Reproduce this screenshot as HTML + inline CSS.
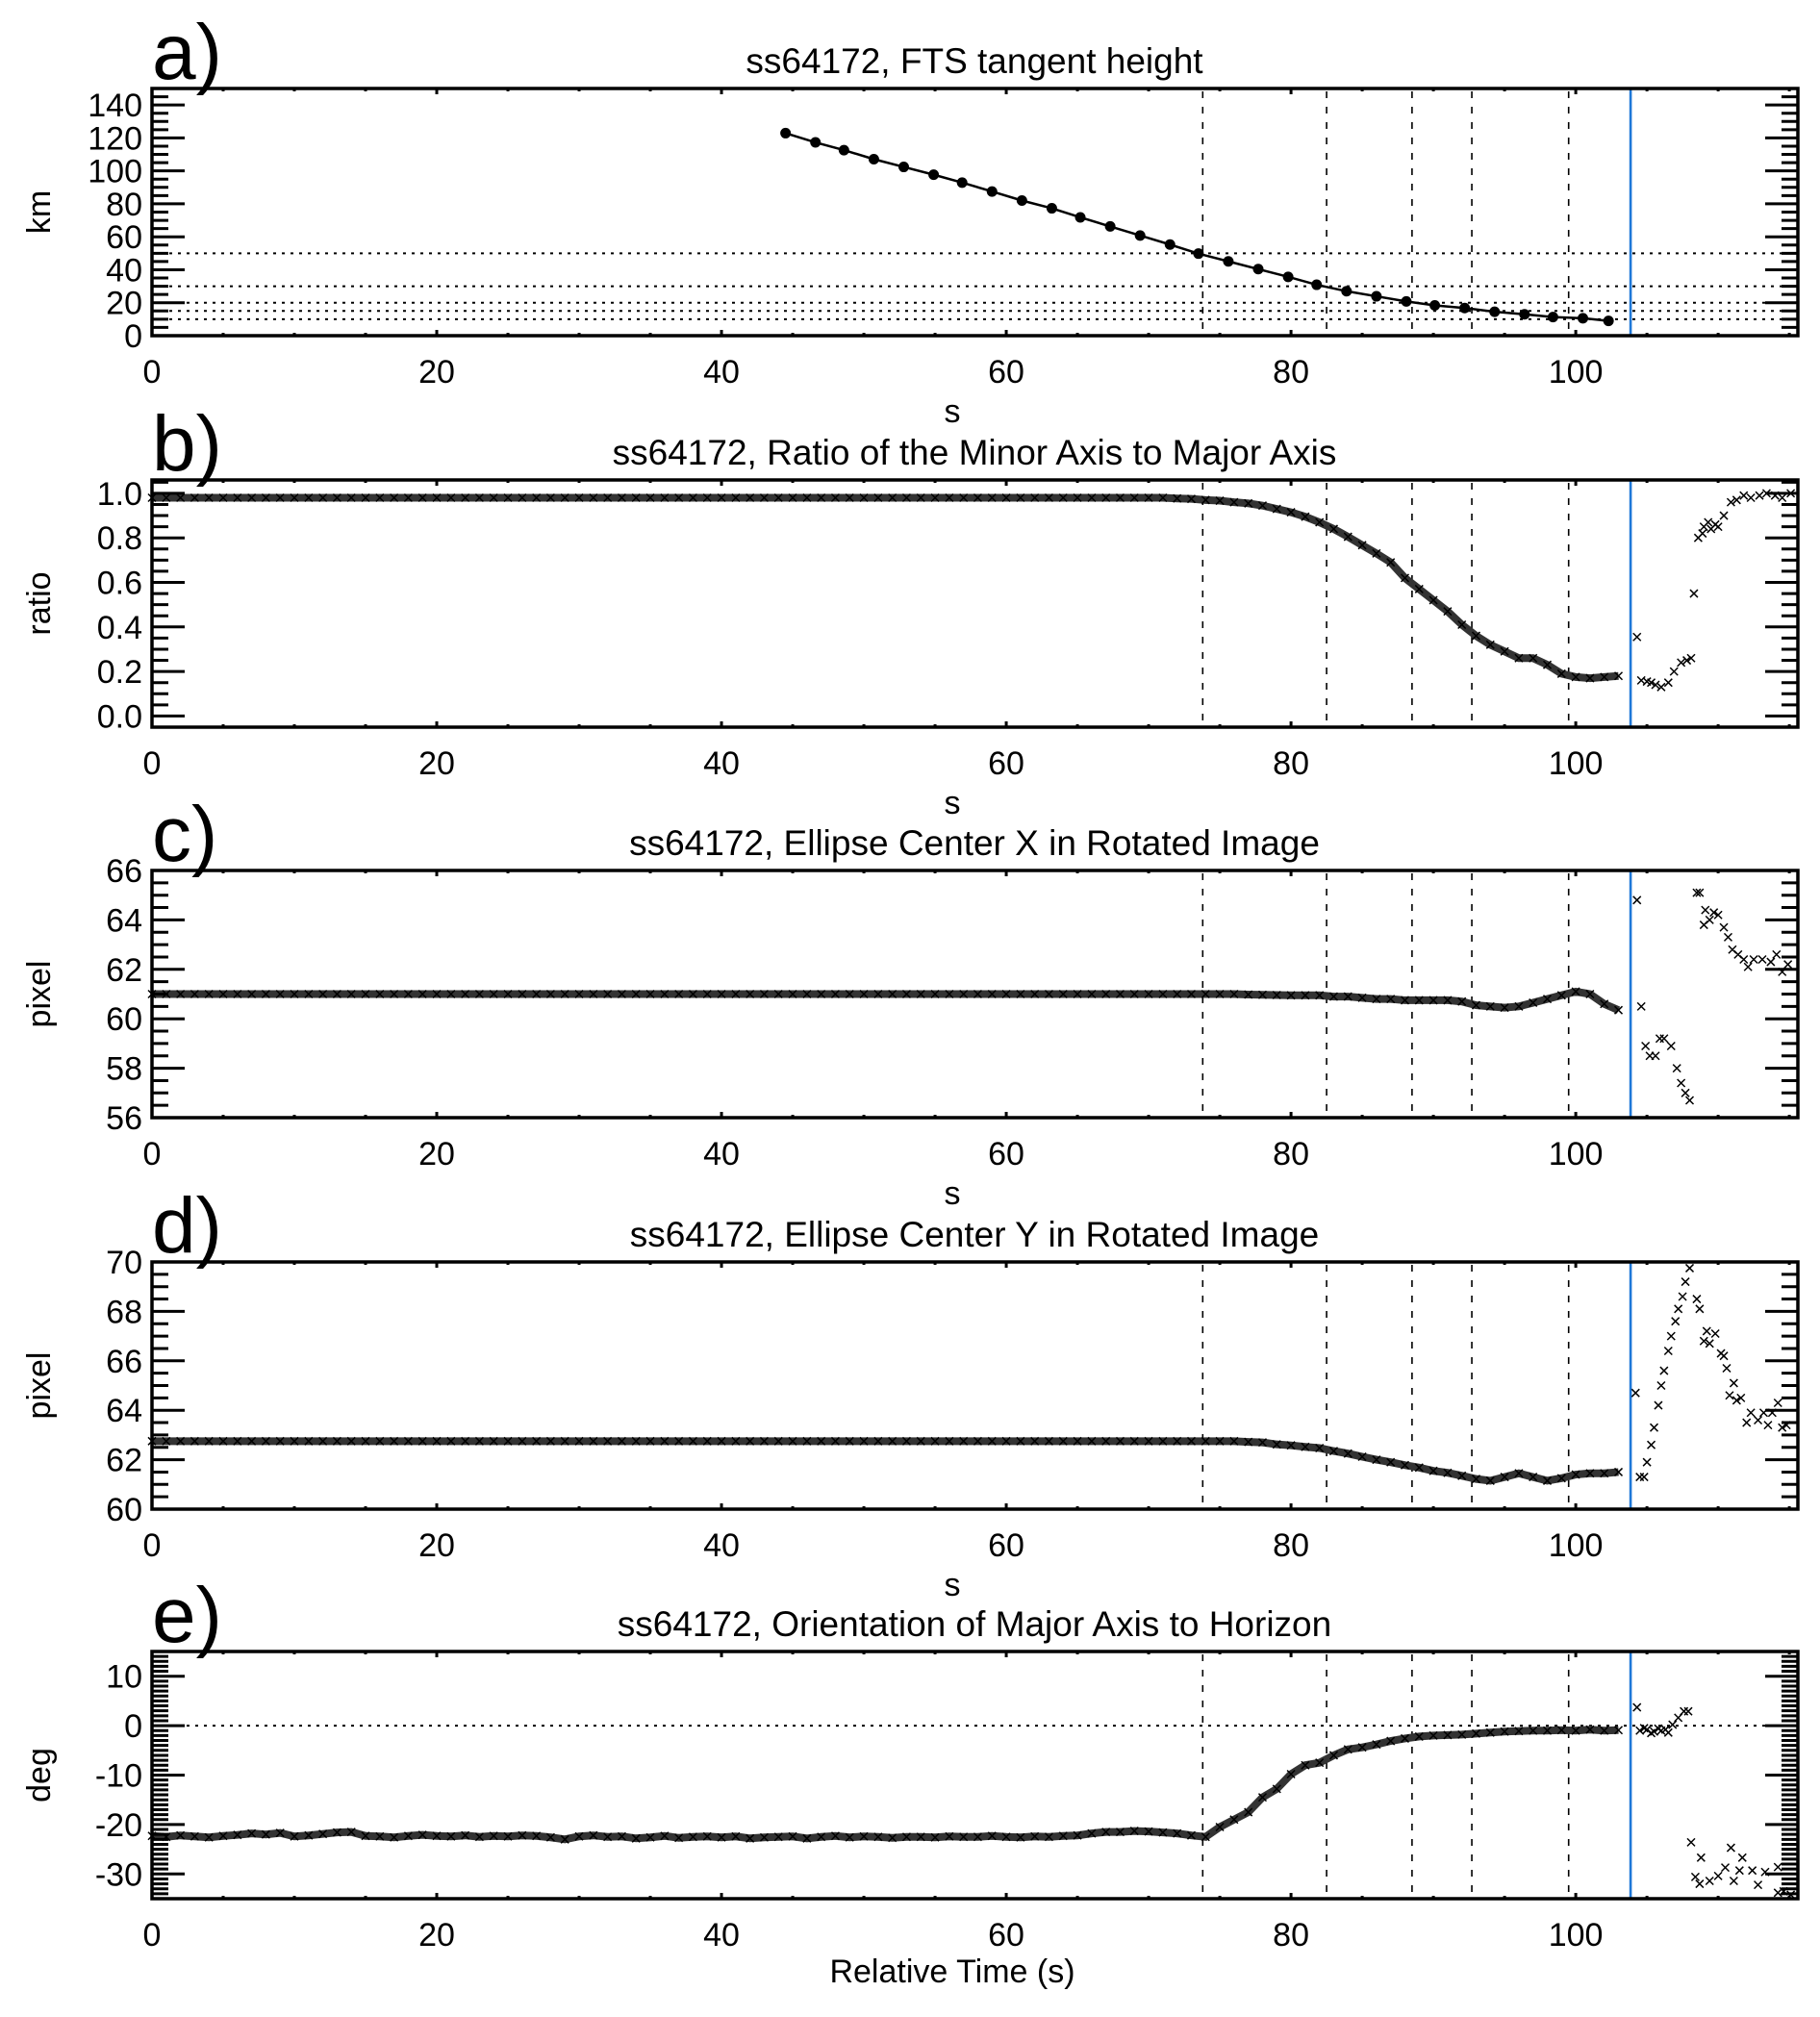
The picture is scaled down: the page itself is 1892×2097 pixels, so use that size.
<!DOCTYPE html>
<html><head><meta charset="utf-8">
<style>
html,body{margin:0;padding:0;background:#fff;}
svg{display:block;font-family:"Liberation Sans",Arial,sans-serif;}
</style></head>
<body>
<svg id="fig" width="1892" height="2097" viewBox="0 0 1892 2097" xmlns="http://www.w3.org/2000/svg"></svg>
<script>
// ---------- DATA ----------
const xTickLabels = ["0","20","40","60","80","100"];
const eventLines = [73.8, 82.5, 88.5, 92.7, 99.5];
const blueLine = 103.85;

// panel a: FTS tangent height
const aTimes = [44.5,46.6,48.6,50.7,52.8,54.9,56.9,59.0,61.1,63.2,65.2,67.3,69.4,71.5,73.5,75.6,77.7,79.8,81.8,83.9,86.0,88.1,90.1,92.2,94.3,96.4,98.4,100.5,102.3];
const aHeights = [122.9,117.3,112.6,107.1,102.4,97.7,92.9,87.5,82.0,77.3,71.8,66.3,60.8,55.3,49.8,45.1,40.4,35.7,30.9,27.0,23.9,20.8,18.4,16.8,14.5,13.0,11.3,10.6,9.0];
const aHLines = [50,30,20,15,10];
const aYTicks = ["0","20","40","60","80","100","120","140"];

// panel b: ratio (1 s samples from 0 to 103 s)
const bMain = [0.98,0.98,0.98,0.98,0.98,0.98,0.98,0.98,0.98,0.98,0.98,0.98,0.98,0.98,0.98,0.98,0.98,0.98,0.98,0.98,
0.98,0.98,0.98,0.98,0.98,0.98,0.98,0.98,0.98,0.98,0.98,0.98,0.98,0.98,0.98,0.98,0.98,0.98,0.98,0.98,
0.98,0.98,0.98,0.98,0.98,0.98,0.98,0.98,0.98,0.98,0.98,0.98,0.98,0.98,0.98,0.98,0.98,0.98,0.98,0.98,
0.98,0.98,0.98,0.98,0.98,0.98,0.98,0.98,0.98,0.98,0.98,0.98,0.977,0.975,0.97,0.967,0.96,0.955,0.945,0.93,
0.915,0.895,0.87,0.84,0.805,0.767,0.73,0.69,0.62,0.57,0.52,0.47,0.41,0.36,0.32,0.29,0.26,0.26,0.23,0.19,
0.175,0.17,0.175,0.18];
const bLateT = [104.3,104.6,105.0,105.3,105.6,106.0,106.5,106.9,107.4,107.8,108.1,108.3,108.6,108.9,109.0,109.3,109.5,109.8,110.0,110.4,110.9,111.3,111.8,112.3,112.9,113.4,114.0,114.5,115.1];
const bLateV = [0.355,0.16,0.155,0.15,0.14,0.13,0.15,0.2,0.24,0.25,0.26,0.55,0.8,0.82,0.85,0.87,0.84,0.86,0.85,0.9,0.96,0.97,0.99,0.98,0.99,1.0,0.99,0.98,1.0];
const bYTicks = ["0.0","0.2","0.4","0.6","0.8","1.0"];

// panel c: ellipse center X
const cMain = [61,61,61,61,61,61,61,61,61,61,61,61,61,61,61,61,61,61,61,61,
61,61,61,61,61,61,61,61,61,61,61,61,61,61,61,61,61,61,61,61,
61,61,61,61,61,61,61,61,61,61,61,61,61,61,61,61,61,61,61,61,
61,61,61,61,61,61,61,61,61,61,61,61,61,61,61,61,61,60.98,60.97,60.96,
60.95,60.95,60.95,60.9,60.9,60.85,60.8,60.8,60.75,60.75,60.75,60.75,60.7,60.55,60.5,60.45,60.5,60.65,60.8,60.95,
61.1,61.0,60.6,60.35];
const cLateT = [104.3,104.6,104.9,105.2,105.6,105.9,106.2,106.7,107.1,107.4,107.7,108.0,108.5,108.7,109.0,109.1,109.4,109.7,110.0,110.4,110.7,111.0,111.4,111.8,112.1,112.5,113.1,113.7,114.1,114.5,114.9];
const cLateV = [64.8,60.5,58.9,58.5,58.5,59.2,59.2,58.9,58.0,57.4,57.0,56.7,65.1,65.1,63.8,64.4,64.0,64.3,64.2,63.7,63.3,62.8,62.6,62.4,62.1,62.4,62.4,62.3,62.6,61.9,62.2];
const cYTicks = ["56","58","60","62","64","66"];

// panel d: ellipse center Y
const dMain = [62.75,62.75,62.75,62.75,62.75,62.75,62.75,62.75,62.75,62.75,62.75,62.75,62.75,62.75,62.75,62.75,62.75,62.75,62.75,62.75,
62.75,62.75,62.75,62.75,62.75,62.75,62.75,62.75,62.75,62.75,62.75,62.75,62.75,62.75,62.75,62.75,62.75,62.75,62.75,62.75,
62.75,62.75,62.75,62.75,62.75,62.75,62.75,62.75,62.75,62.75,62.75,62.75,62.75,62.75,62.75,62.75,62.75,62.75,62.75,62.75,
62.75,62.75,62.75,62.75,62.75,62.75,62.75,62.75,62.75,62.75,62.75,62.75,62.75,62.75,62.75,62.75,62.75,62.72,62.7,62.62,
62.58,62.52,62.47,62.35,62.25,62.12,62.0,61.9,61.78,61.68,61.55,61.47,61.35,61.22,61.15,61.3,61.45,61.3,61.15,61.25,
61.4,61.45,61.45,61.5];
const dLateT = [104.2,104.5,104.8,105.0,105.3,105.5,105.8,106.0,106.2,106.5,106.7,107.0,107.2,107.5,107.7,108.0,108.5,108.7,109.0,109.2,109.4,109.8,110.2,110.4,110.6,110.8,111.1,111.3,111.6,112.0,112.3,112.8,113.2,113.5,113.8,114.2,114.5,114.8];
const dLateV = [64.7,61.3,61.3,61.9,62.6,63.3,64.2,65.0,65.6,66.4,67.0,67.6,68.1,68.6,69.2,69.75,68.5,68.1,66.8,67.2,66.7,67.1,66.3,66.2,65.7,64.6,65.1,64.4,64.5,63.5,63.9,63.6,63.9,63.4,63.9,64.3,63.3,63.4];
const dYTicks = ["60","62","64","66","68","70"];

// panel e: orientation
const eMain = [-22.3,-22.5,-22.2,-22.4,-22.6,-22.3,-22.1,-21.8,-22.0,-21.7,-22.4,-22.2,-21.9,-21.6,-21.5,-22.3,-22.4,-22.6,-22.3,-22.1,
-22.3,-22.4,-22.2,-22.5,-22.3,-22.4,-22.2,-22.3,-22.6,-23.0,-22.4,-22.2,-22.5,-22.4,-22.8,-22.6,-22.3,-22.7,-22.5,-22.4,
-22.6,-22.4,-22.8,-22.6,-22.5,-22.4,-22.8,-22.5,-22.3,-22.6,-22.4,-22.5,-22.7,-22.5,-22.5,-22.6,-22.4,-22.5,-22.5,-22.3,
-22.5,-22.6,-22.4,-22.5,-22.3,-22.2,-21.8,-21.5,-21.5,-21.3,-21.4,-21.6,-21.8,-22.2,-22.5,-20.5,-19.0,-17.5,-14.5,-12.8,
-9.8,-8.0,-7.5,-6.0,-4.8,-4.4,-3.8,-3.1,-2.6,-2.2,-2.0,-1.9,-1.8,-1.6,-1.4,-1.2,-1.1,-1.0,-1.0,-0.9,
-1.0,-0.8,-1.0,-0.9];
const eLateT = [104.3,104.5,104.8,105.0,105.3,105.5,105.8,106.0,106.3,106.5,106.8,107.2,107.6,107.9,108.1,108.4,108.7,108.8,109.4,110.0,110.5,110.9,111.1,111.5,111.7,112.4,112.8,113.3,114.2,114.2,114.6,115.1];
const eLateV = [3.7,-1.0,-0.5,-0.8,-1.5,-1.2,-0.6,-1.0,-0.8,-1.4,0.2,1.6,2.9,2.9,-23.6,-30.6,-32.0,-26.7,-31.4,-30.4,-28.7,-24.7,-31.4,-29.3,-26.7,-29.3,-32.2,-29.6,-28.6,-33.8,-33.5,-34.2];
const eYTicks = ["-30","-20","-10","0","10"];

// ---------- RENDER ----------
const NS = "http://www.w3.org/2000/svg";
const svg = document.getElementById("fig");
const X0 = 158, X1 = 1869, XMIN = 0, XMAX = 115.6;
const PH = 257;
function xs(t){ return X0 + (t - XMIN) / (XMAX - XMIN) * (X1 - X0); }
function mk(tag, attrs, parent){ const e = document.createElementNS(NS, tag); for (const k in attrs) e.setAttribute(k, attrs[k]); (parent||svg).appendChild(e); return e; }

function panel(cfg){
  const top = cfg.top, bot = top + PH;
  const ys = v => bot - (v - cfg.ymin) / (cfg.ymax - cfg.ymin) * PH;
  const g = mk("g", {});
  
  

  const L = mk("text", {x: 158, y: top - 10, "font-size": 82, fill: "#000"}, g);
  L.textContent = cfg.letter;
  
  
  const T = mk("text", {x: 1013, y: top - 16, "font-size": 37, "text-anchor": "middle", fill: "#000"}, g);
  T.textContent = cfg.title;
  
  

  eventLines.forEach(t => {
    const l = mk("line", {x1: xs(t), x2: xs(t), y1: top + 3, y2: bot - 3, stroke: "#000", "stroke-width": 1.6, "stroke-dasharray": "7,9"}, g);
    
    
  });
  (cfg.hlines || []).forEach(v => {
    const l = mk("line", {x1: X0, x2: X1, y1: ys(v), y2: ys(v), stroke: "#000", "stroke-width": 2, "stroke-dasharray": "3,6"}, g);
    
    
  });
  const B = mk("line", {x1: xs(blueLine), x2: xs(blueLine), y1: top, y2: bot, stroke: "#1f78d8", "stroke-width": 2.6}, g);
  
  

  cfg.draw(g, ys);

  for (let v = cfg.ymin; v <= cfg.ymax + 1e-9; v += cfg.minor) {
    const vv = Math.round(v / cfg.minor) * cfg.minor;
    const isMaj = Math.abs(vv / cfg.major - Math.round(vv / cfg.major)) < 1e-6;
    const len = isMaj ? 34 : 17;
    const y = ys(vv);
    mk("line", {x1: X0, x2: X0 + len, y1: y, y2: y, stroke: "#000", "stroke-width": 3}, g);
    mk("line", {x1: X1, x2: X1 - len, y1: y, y2: y, stroke: "#000", "stroke-width": 3}, g);
  }
  cfg.yticks.forEach(s => {
    const v = parseFloat(s);
    const t = mk("text", {x: 148, y: ys(v) + 12, "font-size": 34, "text-anchor": "end", fill: "#000"}, g);
    t.textContent = s;
    
    
  });
  for (let t = 0; t <= XMAX; t += 5) {
    const maj = t % 20 === 0;
    const len = maj ? 6 : 3;
    mk("line", {x1: xs(t), x2: xs(t), y1: bot, y2: bot - len, stroke: "#000", "stroke-width": 3}, g);
    mk("line", {x1: xs(t), x2: xs(t), y1: top, y2: top + len, stroke: "#000", "stroke-width": 3}, g);
  }
  xTickLabels.forEach(s => {
    const t = mk("text", {x: xs(parseFloat(s)), y: bot + 49, "font-size": 34, "text-anchor": "middle", fill: "#000"}, g);
    t.textContent = s;
    
    
  });
  const F = mk("rect", {x: X0, y: top, width: X1 - X0, height: PH, fill: "none", stroke: "#000", "stroke-width": 3.5}, g);
  
  
  const yl = mk("text", {x: 0, y: 0, "font-size": 34, "text-anchor": "middle", fill: "#000", transform: `translate(52,${top + PH/2}) rotate(-90)`}, g);
  yl.textContent = cfg.ylabel;
  
  
  const xl = mk("text", {x: cfg.xlabelX, y: cfg.xlabelY || (bot + 90), "font-size": 34, "text-anchor": "middle", fill: "#000"}, g);
  xl.textContent = cfg.xlabel;
  
  
}

function cross(g, x, y){
  const p = mk("path", {d: `M${x-4},${y-4}L${x+4},${y+4}M${x-4},${y+4}L${x+4},${y-4}`, stroke: "#000", "stroke-width": 1.5, fill: "none"}, g);
  
  
}
function drawMarkers(main, lateT, lateV){
  return function(g, ys){
    const pts = main.map((v, i) => xs(i) + "," + ys(v)).join(" ");
    const band = mk("polyline", {points: pts, fill: "none", stroke: "#333", "stroke-width": 8}, g);
    
    
    main.forEach((v, i) => cross(g, xs(i), ys(v)));
    lateT.forEach((t, i) => cross(g, xs(t), ys(lateV[i])));
  };
}

panel({name: "panel-a-tangent-height", letter: "a)", title: "ss64172, FTS tangent height", top: 92, ymin: 0, ymax: 150, major: 20, minor: 5,
  yticks: aYTicks, hlines: aHLines, ylabel: "km", xlabel: "s", xlabelX: 990,
  draw: function(g, ys){
    const pts = aTimes.map((t, i) => xs(t) + "," + ys(aHeights[i])).join(" ");
    const l = mk("polyline", {points: pts, fill: "none", stroke: "#000", "stroke-width": 2.5}, g);
    
    
    aTimes.forEach((t, i) => {
      const c = mk("circle", {cx: xs(t), cy: ys(aHeights[i]), r: 5.5, fill: "#000"}, g);
      
      
    });
  }});
panel({name: "panel-b-axis-ratio", letter: "b)", title: "ss64172, Ratio of the Minor Axis to Major Axis", top: 499, ymin: -0.05, ymax: 1.06, major: 0.2, minor: 0.05,
  yticks: bYTicks, ylabel: "ratio", xlabel: "s", xlabelX: 990, draw: drawMarkers(bMain, bLateT, bLateV)});
panel({name: "panel-c-center-x", letter: "c)", title: "ss64172, Ellipse Center X in Rotated Image", top: 905, ymin: 56, ymax: 66, major: 2, minor: 0.5,
  yticks: cYTicks, ylabel: "pixel", xlabel: "s", xlabelX: 990, draw: drawMarkers(cMain, cLateT, cLateV)});
panel({name: "panel-d-center-y", letter: "d)", title: "ss64172, Ellipse Center Y in Rotated Image", top: 1312, ymin: 60, ymax: 70, major: 2, minor: 0.5,
  yticks: dYTicks, ylabel: "pixel", xlabel: "s", xlabelX: 990, draw: drawMarkers(dMain, dLateT, dLateV)});
panel({name: "panel-e-orientation", letter: "e)", title: "ss64172, Orientation of Major Axis to Horizon", top: 1717, ymin: -35, ymax: 15, major: 10, minor: 1,
  yticks: eYTicks, hlines: [0], ylabel: "deg", xlabel: "Relative Time (s)", xlabelX: 990, xlabelY: 2061, draw: drawMarkers(eMain, eLateT, eLateV)});
</script>
</body></html>
